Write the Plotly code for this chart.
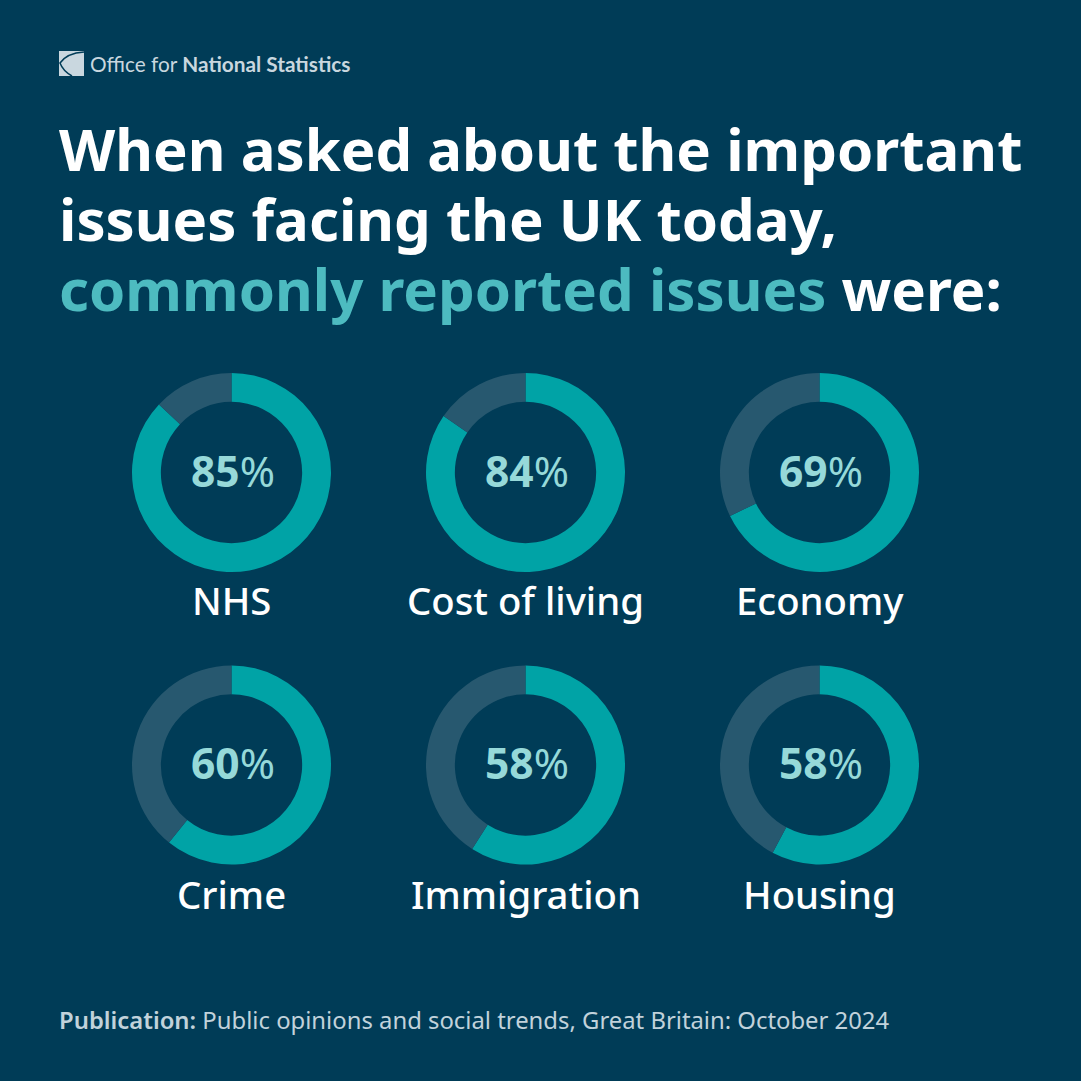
import plotly.graph_objects as go

categories = ["NHS", "Cost of living", "Economy", "Crime", "Immigration", "Housing"]
# the printed figures and the arcs drawn in the picture do not agree exactly
percent_labels = [85, 84, 69, 60, 58, 58]
arc_values = [87, 84.6, 67.8, 60.8, 59, 57.8]

SIZE = 1081
BG = "#003C57"
TEAL = "#00A3A6"
REST = "#27586F"
FONT = "Noto Sans"

col_x = [231.5, 525.5, 819.5]
row_y = [472.5, 765]
pct_y = [470.5, 762]
name_y = [599.5, 894]
outer_r = 99.5


def px(x):
    return x / SIZE


def py(y):
    return 1 - y / SIZE


fig = go.Figure()
annotations = []


def add_text(x, y, text, size, color, anchor="center", family=FONT, weight=None):
    annotations.append(dict(
        x=px(x), y=py(y), xref="paper", yref="paper", text=text, showarrow=False,
        xanchor=anchor, yanchor="middle", align="left", borderpad=0, borderwidth=0,
        font=dict(family=family, size=size, color=color, weight=weight),
    ))


for i, name in enumerate(categories):
    cx = col_x[i % 3]
    cy = row_y[i // 3]
    fig.add_trace(go.Pie(
        values=[arc_values[i], 100 - arc_values[i]],
        labels=[name, "Other"],
        hole=0.71,
        sort=False,
        direction="clockwise",
        rotation=0,
        textinfo="none",
        showlegend=False,
        marker=dict(colors=[TEAL, REST], line=dict(width=0)),
        domain=dict(x=[px(cx - outer_r), px(cx + outer_r)],
                    y=[py(cy + outer_r), py(cy - outer_r)]),
    ))
    add_text(cx + 1.5, pct_y[i // 3], f"<b>{percent_labels[i]}</b>%", 42.5, "#96D9D9")
    add_text(cx, name_y[i // 3], name, 38.3, "white", weight=500)

# header, title and source
add_text(90, 64, "Office for <b>National Statistics</b>", 20.8, "#C9D7DF", "left", family="Lato")
add_text(59, 148.5, "<b>When asked about the important</b>", 58.15, "white", "left")
add_text(59, 218.5, "<b>issues facing the UK today,</b>", 58.15, "white", "left")
add_text(59, 288.5, "<b><span style='color:#4DBBC0'>commonly reported issues</span> were:</b>",
         58.15, "white", "left")
add_text(59, 1020, "<span style='font-weight:600'>Publication:</span> Public opinions and social trends, Great Britain: October 2024",
         23.85, "#C1D2DB", "left")

# logo: pale square with a dark swoosh cut through it
logo_square = f"M {px(59)} {py(51)} L {px(84)} {py(51)} L {px(84)} {py(76)} L {px(59)} {py(76)} Z"
swoosh = (f"M {px(84)} {py(52)} Q {px(67)} {py(53)} {px(60)} {py(63)} "
          f"Q {px(63)} {py(71)} {px(72)} {py(76)}")
shapes = [
    dict(type="path", xref="paper", yref="paper", path=logo_square,
         fillcolor="#C9D7DF", line=dict(width=0)),
    dict(type="path", xref="paper", yref="paper", path=swoosh,
         fillcolor="rgba(0,0,0,0)", line=dict(color=BG, width=1.5)),
]

fig.update_layout(
    width=SIZE, height=SIZE,
    margin=dict(l=0, r=0, t=0, b=0),
    paper_bgcolor=BG,
    plot_bgcolor=BG,
    annotations=annotations,
    shapes=shapes,
)

fig.write_html("out.html", config={"displayModeBar": False},
               post_script="document.body.style.margin='0';document.body.style.background='#003C57';")
